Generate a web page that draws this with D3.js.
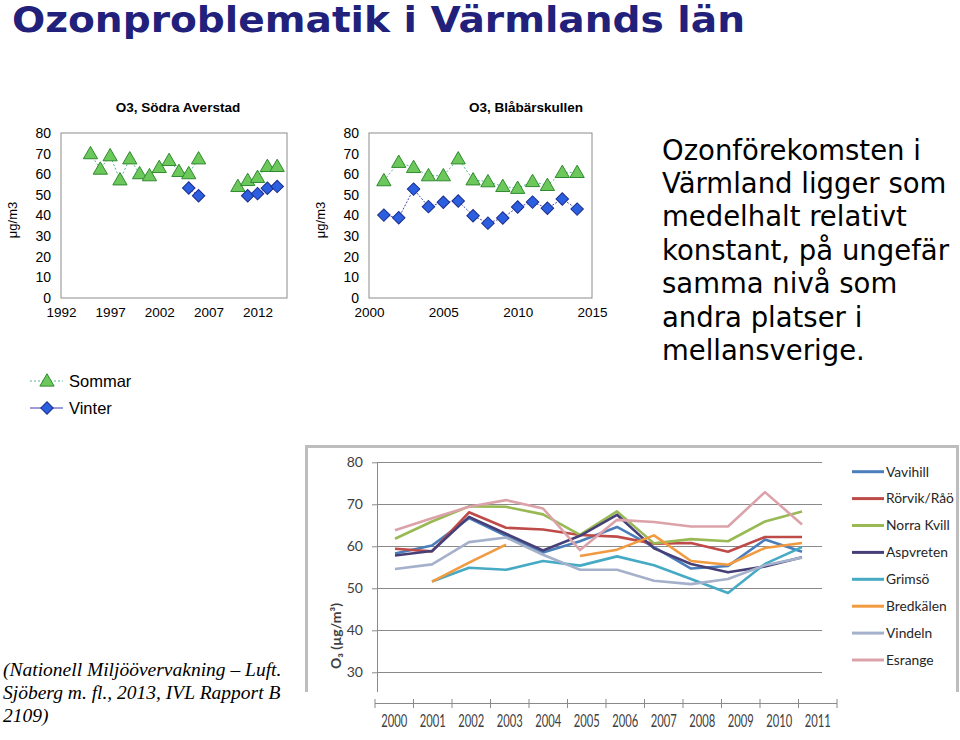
<!DOCTYPE html>
<html>
<head>
<meta charset="utf-8">
<script src="https://cdnjs.cloudflare.com/ajax/libs/d3/7.8.5/d3.min.js"></script>
<style>
  body { margin: 0; background: #fff; }
  svg { display: block; }
</style>
</head>
<body>
<script>
// Södra Averstad, 1995-2014
var averstadYears = d3.range(1995, 2015);
var averstadSommar = [70, 62.5, 69, 57.3, 67.5, 60.3, 59.3, 63.3, 66.7, 61.4, 60.3, 67.5, null, null, null, 54.1, 57, 58.5, 63.8, 63.8];
var averstadVinter = [null, null, null, null, null, null, null, null, null, null, 53.3, 49.6, null, null, null, null, 49.6, 50.6, 53.2, 54.1];

// Blåbärskullen, 2001-2014
var blabarYears = d3.range(2001, 2015);
var blabarSommar = [56.9, 65.8, 63.3, 59.3, 59.3, 67.5, 57.3, 56.4, 54.1, 53.2, 56.5, 54.6, 60.9, 60.9];
var blabarVinter = [40.2, 38.9, 52.8, 44.3, 46.4, 47.0, 39.9, 36.3, 38.8, 44.1, 46.5, 43.5, 48.0, 43.1];

var smallYTicks = [0, 10, 20, 30, 40, 50, 60, 70, 80];
var averstadXTicks = [1992, 1997, 2002, 2007, 2012];
var blabarXTicks = [2000, 2005, 2010, 2015];

// stations, 2000-2011
var stationYears = d3.range(2000, 2012);
var stations = ['Vavihill', 'Rörvik/Råö', 'Norra Kvill', 'Aspvreten', 'Grimsö', 'Bredkälen', 'Vindeln', 'Esrange'];
var vavihill   = [58.3, 60.2, 66.7, 62.5, 58.5, 61.2, 64.6, 59.8, 54.7, 55.3, 61.6, 58.7];
var rorvik     = [59.4, 58.8, 68.1, 64.4, 64.0, 62.7, 62.3, 60.6, 60.8, 58.7, 62.2, 62.2];
var norraKvill = [61.8, 65.9, 69.5, 69.4, 67.6, 62.7, 68.3, 60.7, 61.7, 61.2, 65.9, 68.3];
var aspvreten  = [57.8, 58.9, 67.0, 63.0, 59.0, 62.5, 67.5, 59.5, 55.8, 53.8, 55.2, 57.4];
var grimso     = [null, 51.6, 54.9, 54.4, 56.5, 55.4, 57.6, 55.5, 52.2, 48.9, 55.8, 59.8];
var bredkalen  = [null, 51.6, 56.1, 60.4, null, 57.7, 59.2, 62.6, 56.5, 55.6, 59.6, 60.8];
var vindeln    = [54.6, 55.7, 61.0, 62.1, 58.0, 54.4, 54.4, 51.8, 51.0, 52.2, 55.5, 57.3];
var esrange    = [63.8, 66.7, 69.4, 71.0, 69.0, 59.1, 66.3, 65.8, 64.7, 64.7, 72.9, 65.2];
var stationValues = [vavihill, rorvik, norraKvill, aspvreten, grimso, bredkalen, vindeln, esrange];
var stationColors = ['#4a7ebb', '#be4b48', '#98b954', '#463f78', '#46aac5', '#f29a40', '#a5b0ca', '#dca2aa'];
var bottomYTicks = [30, 40, 50, 60, 70, 80];

var sideText = ['Ozonförekomsten i', 'Värmland ligger som', 'medelhalt relativt', 'konstant, på ungefär', 'samma nivå som', 'andra platser i', 'mellansverige.'];
var sourceText = ['(Nationell Miljöövervakning – Luft.', 'Sjöberg m. fl., 2013, IVL Rapport B', '2109)'];

var arial = '"Liberation Sans", Arial, sans-serif';
var calibri = 'Lato, "Open Sans", sans-serif';

var svg = d3.select('body').append('svg')
  .attr('width', 960)
  .attr('height', 740)

svg.append('text')
  .attr('x', 12).attr('y', 32)
  .attr('font-family', '"DejaVu Sans Condensed", "DejaVu Sans", sans-serif')
  .attr('font-weight', 'bold')
  .attr('font-size', 36)
  .attr('fill', '#21217c')
  .attr('textLength', 733)
  .attr('lengthAdjust', 'spacingAndGlyphs')
  .text('Ozonproblematik i Värmlands län')

var triangle = d3.symbol().type(d3.symbolTriangle).size(88);
var diamond = d3.symbol().type(d3.symbolSquare).size(78);

function drawTriangle(sel) {
  sel.attr('d', triangle).attr('fill', '#6cc85a').attr('stroke', '#2f8a2f').attr('stroke-width', 1)
}
function drawDiamond(sel) {
  sel.attr('d', diamond).attr('fill', '#2b5fe0').attr('stroke', '#1b2d8c').attr('stroke-width', 1)
}

function smallChart(o) {
  var x = d3.scaleLinear().domain(o.xDomain).range([o.left, o.right]);
  var y = d3.scaleLinear().domain([0, 80]).range([298, 133]);
  var g = svg.append('g').attr('font-family', arial).attr('fill', '#000');

  g.append('text')
    .attr('x', o.titleX).attr('y', 112)
    .attr('text-anchor', 'middle')
    .attr('font-weight', 'bold')
    .attr('font-size', 13.5)
    .text(o.title)

  g.append('rect')
    .attr('x', o.left).attr('y', 133)
    .attr('width', o.right - o.left).attr('height', 165)
    .attr('fill', 'none').attr('stroke', '#8c8c8c')

  var ya = g.append('g')
    .attr('transform', 'translate(' + o.left + ',0)')
    .call(d3.axisLeft(y).tickValues(smallYTicks).tickSize(0).tickPadding(10))
    .attr('font-size', 14).attr('font-family', arial)
  ya.select('.domain').remove()
  ya.selectAll('text').attr('fill', '#000')

  var xa = g.append('g')
    .attr('transform', 'translate(0,298)')
    .call(d3.axisBottom(x).tickValues(o.xTicks).tickFormat(d3.format('d')).tickSize(0).tickPadding(9))
    .attr('font-size', 13.5).attr('font-family', arial)
  xa.select('.domain').remove()
  xa.selectAll('text').attr('fill', '#000')

  g.append('text')
    .attr('transform', 'translate(' + o.unitX + ',220) rotate(-90)')
    .attr('text-anchor', 'middle')
    .attr('font-size', 13)
    .text('μg/m3')

  var line = d3.line()
    .defined(function(d) { return d[1] != null })
    .x(function(d) { return x(d[0]) })
    .y(function(d) { return y(d[1]) })

  var som = o.years.map(function(yr, i) { return [yr, o.sommar[i]] });
  var vin = o.years.map(function(yr, i) { return [yr, o.vinter[i]] });

  g.append('path').datum(som).attr('d', line)
    .attr('fill', 'none').attr('stroke', '#55b59a').attr('stroke-width', 1).attr('stroke-dasharray', '2,2')
  g.append('path').datum(vin).attr('d', line)
    .attr('fill', 'none').attr('stroke', '#4a4ab8').attr('stroke-width', 1).attr('stroke-dasharray', '2,1.5')

  g.selectAll('.som').data(som.filter(function(d) { return d[1] != null }))
    .enter().append('path')
    .attr('transform', function(d) { return 'translate(' + x(d[0]) + ',' + (y(d[1]) + 1) + ')' })
    .call(drawTriangle)
  g.selectAll('.vin').data(vin.filter(function(d) { return d[1] != null }))
    .enter().append('path')
    .attr('transform', function(d) { return 'translate(' + x(d[0]) + ',' + y(d[1]) + ') rotate(45)' })
    .call(drawDiamond)
}

smallChart({ title: 'O3, Södra Averstad', titleX: 178, left: 61, right: 287, unitX: 17,
  xDomain: [1992, 2015], xTicks: averstadXTicks, years: averstadYears, sommar: averstadSommar, vinter: averstadVinter });
smallChart({ title: 'O3, Blåbärskullen', titleX: 526, left: 369, right: 592, unitX: 325,
  xDomain: [2000, 2015], xTicks: blabarXTicks, years: blabarYears, sommar: blabarSommar, vinter: blabarVinter });

// Sommar / Vinter legend
var leg = svg.append('g').attr('font-family', arial).attr('font-size', 16.5);
leg.append('line').attr('x1', 30).attr('x2', 63).attr('y1', 381).attr('y2', 381)
  .attr('stroke', '#55b59a').attr('stroke-dasharray', '2,2')
leg.append('path').attr('transform', 'translate(47,382)').call(drawTriangle)
leg.append('text').attr('x', 69).attr('y', 381).attr('dy', '0.35em').text('Sommar')
leg.append('line').attr('x1', 30).attr('x2', 63).attr('y1', 408).attr('y2', 408)
  .attr('stroke', '#3a3ab8')
leg.append('path').attr('transform', 'translate(47,408) rotate(45)').call(drawDiamond)
leg.append('text').attr('x', 69).attr('y', 408).attr('dy', '0.35em').text('Vinter')

// text on the right
svg.append('g').selectAll('text')
  .data(sideText)
  .enter().append('text')
  .attr('x', 662)
  .attr('y', function(d, i) { return 159.5 + i * 33.45 })
  .attr('font-family', '"DejaVu Sans", Verdana, sans-serif')
  .attr('font-size', 27.5)
  .attr('fill', '#000')
  .text(function(d) { return d })

// source note
svg.append('g').selectAll('text')
  .data(sourceText)
  .enter().append('text')
  .attr('x', 3)
  .attr('y', function(d, i) { return 676 + i * 23 })
  .attr('font-family', '"Liberation Serif", "Times New Roman", serif')
  .attr('font-style', 'italic')
  .attr('font-size', 19.5)
  .attr('fill', '#000')
  .text(function(d) { return d })

// station chart
var bot = svg.append('g');
bot.append('path')
  .attr('d', 'M306.5,692V446.5H957.5V692')
  .attr('fill', 'none').attr('stroke', '#bdbdbd').attr('stroke-width', 3)

var bx = d3.scaleBand().domain(stationYears).range([375, 837]);
var px = d3.scalePoint().domain(stationYears).range([395, 802]);
var by = d3.scaleLinear().domain([30, 80]).range([672.3, 462.3]);

bot.selectAll('.grid').data(bottomYTicks)
  .enter().append('line')
  .attr('x1', 377).attr('x2', 822)
  .attr('y1', function(d) { return Math.round(by(d)) + 0.5 })
  .attr('y2', function(d) { return Math.round(by(d)) + 0.5 })
  .attr('stroke', '#8a8a8a').attr('stroke-width', 1)

bot.append('line').attr('x1', 377.5).attr('x2', 377.5).attr('y1', by(80)).attr('y2', 692)
  .attr('stroke', '#8a8a8a')

var bya = bot.append('g')
  .attr('transform', 'translate(377,0)')
  .call(d3.axisLeft(by).tickValues(bottomYTicks).tickSize(5).tickPadding(9))
  .attr('font-size', 14).attr('font-family', calibri)
bya.select('.domain').remove()
bya.selectAll('line').attr('stroke', '#8a8a8a')
bya.selectAll('text').attr('fill', '#404040')

bot.append('line').attr('x1', 375).attr('x2', 837).attr('y1', 703.5).attr('y2', 703.5)
  .attr('stroke', '#8a8a8a')
bot.selectAll('.xtick').data(stationYears.concat([null]))
  .enter().append('line')
  .attr('x1', function(d) { return d == null ? bx.range()[1] : bx(d) })
  .attr('x2', function(d) { return d == null ? bx.range()[1] : bx(d) })
  .attr('y1', 699).attr('y2', 708)
  .attr('stroke', '#8a8a8a')

var bxa = bot.append('g')
  .attr('transform', 'translate(0,703)')
  .call(d3.axisBottom(bx).tickSize(0).tickPadding(12))
  .attr('font-size', 16.5).attr('font-family', calibri)
bxa.select('.domain').remove()
bxa.selectAll('text').attr('fill', '#404040').attr('transform', 'scale(0.68,1)')

bot.append('text')
  .attr('transform', 'translate(341,636) rotate(-90)')
  .attr('text-anchor', 'middle')
  .attr('font-family', calibri)
  .attr('font-weight', 'bold')
  .attr('font-size', 14)
  .attr('fill', '#404040')
  .text('O₃ (µg/m³)')

var sline = d3.line()
  .defined(function(d) { return d != null })
  .x(function(d, i) { return px(stationYears[i]) })
  .y(function(d) { return by(d) })

bot.selectAll('.station').data(stationValues)
  .enter().append('path')
  .attr('d', sline)
  .attr('fill', 'none')
  .attr('stroke', function(d, i) { return stationColors[i] })
  .attr('stroke-width', 2.6)
  .attr('stroke-linejoin', 'round')

var lg = bot.selectAll('.lg').data(stations)
  .enter().append('g')
  .attr('transform', function(d, i) { return 'translate(0,' + (471.7 + i * 26.9) + ')' })
lg.append('line').attr('x1', 852).attr('x2', 884)
  .attr('stroke', function(d, i) { return stationColors[i] }).attr('stroke-width', 3)
lg.append('text').attr('x', 886).attr('dy', '0.35em')
  .attr('font-family', calibri).attr('font-size', 13.8).attr('fill', '#262626')
  .text(function(d) { return d })
</script>
</body>
</html>
